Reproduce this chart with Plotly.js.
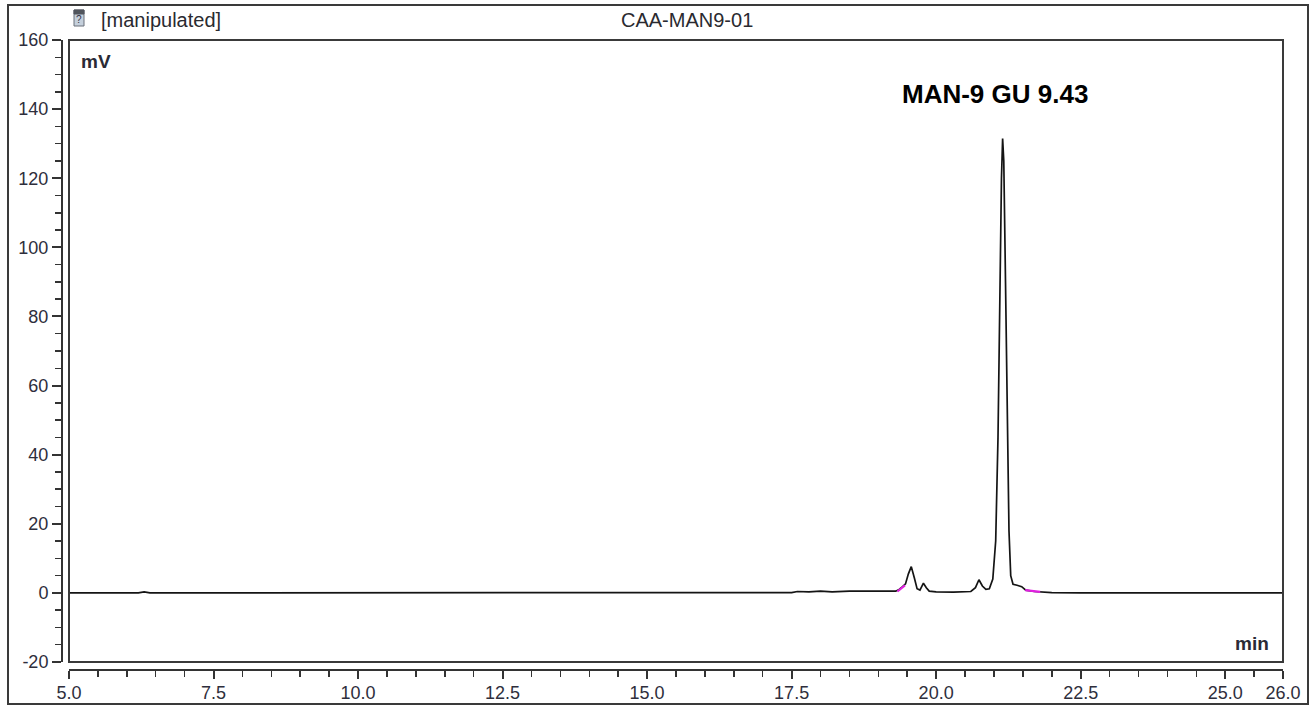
<!DOCTYPE html>
<html>
<head>
<meta charset="utf-8">
<script src="https://cdn.plot.ly/plotly-3.0.1.min.js"></script>
<style>html,body{margin:0;padding:0;background:#fff;}#chart{width:1313px;height:706px;}</style>
</head>
<body>
<div id="chart"></div>
<script>
// Chromatogram trace (retention time in min, signal in mV)
const timeMin = [5.0, 5.8, 6.2, 6.3, 6.4, 8.0, 11.1, 11.2, 11.3, 14.0, 16.6, 16.7, 16.8, 17.5, 17.6, 17.8, 18.0, 18.2, 18.5, 18.8, 19.0, 19.3, 19.36, 19.42, 19.47, 19.52, 19.57, 19.62, 19.67, 19.72, 19.78, 19.83, 19.88, 20.0, 20.3, 20.6, 20.68, 20.74, 20.8, 20.86, 20.92, 20.98, 21.03, 21.07, 21.1, 21.13, 21.15, 21.17, 21.2, 21.23, 21.26, 21.29, 21.33, 21.4, 21.48, 21.55, 21.7, 22.0, 22.5, 24.0, 26.0];
const signalMV = [0.0, 0.1, 0.0, 0.3, 0.0, 0.0, 0.0, 0.2, 0.0, 0.0, 0.0, 0.2, 0.0, 0.1, 0.4, 0.3, 0.5, 0.3, 0.5, 0.4, 0.5, 0.5, 1.0, 1.8, 2.6, 5.5, 7.6, 4.5, 1.2, 0.8, 2.8, 1.5, 0.5, 0.3, 0.2, 0.4, 1.5, 3.8, 2.0, 1.0, 1.2, 4.0, 15.0, 45.0, 85.0, 120.0, 131.5, 125.0, 90.0, 50.0, 18.0, 5.0, 2.5, 2.2, 1.8, 0.8, 0.4, 0.1, 0.0, 0.0, 0.0];
// Integration baseline markers (magenta)
const markLeftTime = [19.33, 19.46];
const markLeftMV = [0.4, 2.2];
const markRightTime = [21.54, 21.8];
const markRightMV = [0.8, 0.3];
// Axis ticks
const xTickVals = [5.0, 7.5, 10.0, 12.5, 15.0, 17.5, 20.0, 22.5, 25.0, 26.0];
const xTickText = ["5.0", "7.5", "10.0", "12.5", "15.0", "17.5", "20.0", "22.5", "25.0", "26.0"];
const yTickVals = [-20, 0, 20, 40, 60, 80, 100, 120, 140, 160];
const yTickText = ["-20", "0", "20", "40", "60", "80", "100", "120", "140", "160"];
const peakLabel = "MAN-9 GU 9.43";
const headerLeft = "[manipulated]";
const headerTitle = "CAA-MAN9-01";

const W = 1221, H = 630; // paper size in px
const px = v => (v - 62) / W;          // page x -> paper x
const py = v => (670 - v) / H;         // page y -> paper y

const tickFont = {family: "Liberation Sans, Arial, sans-serif", size: 18, color: "#2e2e3c"};

const traces = [
  {x: timeMin, y: signalMV, type: "scatter", mode: "lines", line: {color: "#141414", width: 1.7}, hoverinfo: "x+y"},
  {x: markLeftTime, y: markLeftMV, type: "scatter", mode: "lines", line: {color: "#e020e0", width: 2.2}},
  {x: markRightTime, y: markRightMV, type: "scatter", mode: "lines", line: {color: "#e020e0", width: 2.2}}
];

const layout = {
  width: 1313, height: 706,
  margin: {l: 62, r: 30, t: 40, b: 36, pad: 0},
  paper_bgcolor: "#ffffff", plot_bgcolor: "#ffffff",
  showlegend: false,
  xaxis: {
    range: [5, 26], domain: [7 / W, 1], anchor: "free", position: 0,
    showgrid: false, zeroline: false,
    showline: true, linecolor: "#333", linewidth: 2,
    tickmode: "array", tickvals: xTickVals, ticktext: xTickText,
    ticks: "outside", ticklen: 8, tickwidth: 2, tickcolor: "#333",
    ticklabelstandoff: -2,
    minor: {tickmode: "linear", tick0: 5, dtick: 0.5, ticks: "outside", ticklen: 6, tickwidth: 1.5, tickcolor: "#333", showgrid: false},
    tickfont: tickFont
  },
  yaxis: {
    range: [-20, 160], domain: [8 / H, 1], anchor: "free", position: 0,
    showgrid: false, zeroline: false,
    showline: true, linecolor: "#333", linewidth: 2,
    tickmode: "array", tickvals: yTickVals, ticktext: yTickText,
    ticks: "outside", ticklen: 9, tickwidth: 2, tickcolor: "#333",
    minor: {tickmode: "linear", tick0: 0, dtick: 5, ticks: "outside", ticklen: 6, tickwidth: 1.5, tickcolor: "#333", showgrid: false},
    tickfont: tickFont
  },
  shapes: [
    // inner plot frame
    {type: "rect", xref: "x domain", yref: "y domain", x0: 0, x1: 1, y0: 0, y1: 1, line: {color: "#3a3a3a", width: 2}},
    // outer frame
    {type: "rect", xref: "paper", yref: "paper", x0: px(8), x1: px(1308), y0: py(704), y1: py(5), line: {color: "#3a3a3a", width: 2}},
    // header icon
    {type: "rect", xref: "paper", yref: "paper", x0: px(74), x1: px(84), y0: py(26), y1: py(10), fillcolor: "#c5d0dc", line: {color: "#6a707a", width: 1}},
    {type: "rect", xref: "paper", yref: "paper", x0: px(74), x1: px(84), y0: py(14), y1: py(10), fillcolor: "#50555c", line: {color: "#50555c", width: 1}}
  ],
  annotations: [
    {xref: "paper", yref: "paper", x: px(79), y: py(20), text: "?", showarrow: false, xanchor: "center", yanchor: "middle",
     font: {family: "Liberation Sans, Arial", size: 10, color: "#334"}},
    {xref: "paper", yref: "paper", x: px(99), y: py(20), text: headerLeft, showarrow: false, xanchor: "left", yanchor: "middle",
     font: {family: "Liberation Sans, Arial", size: 20, color: "#2a2a30"}},
    {xref: "paper", yref: "paper", x: px(687), y: py(20), text: headerTitle, showarrow: false, xanchor: "center", yanchor: "middle",
     font: {family: "Liberation Sans, Arial", size: 20, color: "#2a2a30"}},
    {xref: "paper", yref: "paper", x: px(79), y: py(61), text: "<b>mV</b>", showarrow: false, xanchor: "left", yanchor: "middle",
     font: {family: "Liberation Sans, Arial", size: 19, color: "#2a2a35"}},
    {xref: "paper", yref: "paper", x: px(1271), y: py(643), text: "<b>min</b>", showarrow: false, xanchor: "right", yanchor: "middle",
     font: {family: "Liberation Sans, Arial", size: 19, color: "#2a2a35"}},
    {xref: "x", yref: "y", x: 21.02, y: 144.4, text: "<b>" + peakLabel + "</b>", showarrow: false, xanchor: "center", yanchor: "middle",
     font: {family: "Liberation Sans, Arial", size: 26, color: "#000"}}
  ]
};

Plotly.newPlot("chart", traces, layout, {displayModeBar: false, staticPlot: true});
</script>
</body>
</html>
